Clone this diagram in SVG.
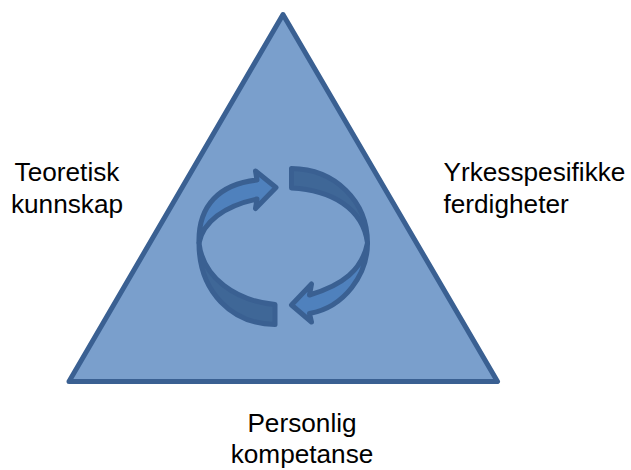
<svg xmlns="http://www.w3.org/2000/svg" width="631" height="470" viewBox="0 0 631 470">
<style>
.t{font-family:"Liberation Sans",Arial,sans-serif;font-size:26.2px;fill:#000;text-anchor:middle}
.st{text-anchor:start}
.s{stroke:#3a6092;stroke-width:5;stroke-linejoin:round}
.a{fill:#4f81bd}
.b{fill:#3f6797}
</style>
<rect width="631" height="470" fill="#fff"/>
<g id="triangle"><path class="s" d="M283 14.500L497.500 381.500H69Z" fill="#7a9fcc"/></g>
<g id="cycle">
<path id="arrow-left" class="s a" d="M199 243C198 205 220 184 257 180L255.500 171L276 187.500L255.500 208.500L257 199C224 206 203 222 199 243Z"/>
<path id="band-left" class="s b" d="M199 243C203 278 236 301 275 304.500V324.500C232 324 199 292 199 243Z"/>
<path id="arrow-right" class="s a" d="M367.500 243C367.500 274 345 307 309.500 313.500L311.500 322L291.500 305L311.500 284L309.500 295C343 285 362 270 367.500 243Z"/>
<path id="band-right" class="s b" d="M367.500 243C363 208 331 190 291.500 188V168.500C335 169 367.500 201 367.500 243Z"/>
</g>
<g id="labels">
<text class="t" x="67" y="181">Teoretisk</text>
<text class="t" x="67" y="213">kunnskap</text>
<text class="t st" x="443.500" y="181">Yrkesspesifikke</text>
<text class="t st" x="443.500" y="212.500">ferdigheter</text>
<text class="t" x="302" y="432">Personlig</text>
<text class="t" x="302" y="463">kompetanse</text>
</g>
</svg>
